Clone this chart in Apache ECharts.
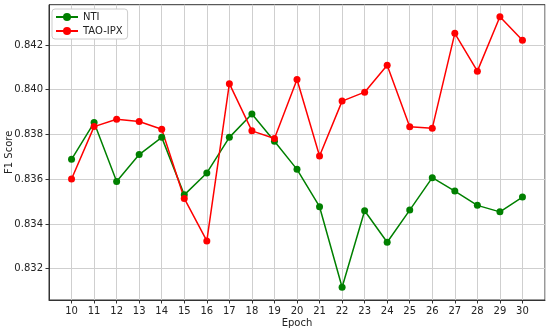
<!DOCTYPE html>
<html><head><meta charset="utf-8">
<script src="https://cdn.jsdelivr.net/npm/echarts@6/dist/echarts.min.js"></script>
<style>html,body{margin:0;padding:0;background:#fff}#c{width:550px;height:331px}</style>
</head><body><div id="c"></div>
<script>
const epochs = [10,11,12,13,14,15,16,17,18,19,20,21,22,23,24,25,26,27,28,29,30];
const nti = [0.83689,0.83853,0.83590,0.83710,0.83787,0.83530,0.83628,0.83787,0.83891,0.83770,0.83644,0.83477,0.83117,0.83459,0.83318,0.83462,0.83607,0.83547,0.83483,0.83454,0.83520];
const taoIpx = [0.83601,0.83835,0.83868,0.83858,0.83823,0.83514,0.83324,0.84027,0.83816,0.83782,0.84046,0.83704,0.83949,0.83989,0.84109,0.83834,0.83828,0.84252,0.84083,0.84326,0.84221];
const yTicks = [0.832,0.834,0.836,0.838,0.840,0.842];

const chart = echarts.init(document.getElementById('c'), null, {renderer:'canvas'});
const font = 'DejaVu Sans';
const gridColor = '#cfcfcf';
const frame = '#333333';
chart.setOption({
  animation:false,
  textStyle:{fontFamily:font},
  grid:{left:49,right:5,top:4.7,bottom:31,containLabel:false,outerBoundsMode:'none',show:true,borderColor:frame,borderWidth:1,backgroundColor:'#fff'},
  legend:{
    orient:'vertical',left:52,top:9,padding:[3,5,3,3],itemWidth:22,itemHeight:10,itemGap:4,
    borderColor:'#cccccc',borderWidth:1,borderRadius:3,backgroundColor:'#fff',
    textStyle:{fontSize:10,color:'#222',fontFamily:font},
    data:['NTI','TAO-IPX']
  },
  xAxis:{
    type:'value',min:9,max:31,interval:1,
    name:'Epoch',nameLocation:'middle',nameGap:18,nameMoveOverlap:false,
    nameTextStyle:{fontSize:10,color:'#222',fontFamily:font},
    axisLine:{show:true,lineStyle:{color:frame}},
    axisTick:{show:true,inside:false,length:3.5,lineStyle:{color:frame}},
    axisLabel:{fontSize:10,color:'#222',margin:6,showMinLabel:false,showMaxLabel:false,
      formatter:v=>(v<10||v>30)?'':String(v)},
    splitLine:{show:true,lineStyle:{color:gridColor,width:1}}
  },
  yAxis:{
    type:'value',min:0.8306,max:0.8438,
    name:'F1 Score',nameLocation:'middle',nameGap:35,nameMoveOverlap:false,
    nameTextStyle:{fontSize:10,color:'#222',fontFamily:font},
    axisLine:{show:true,lineStyle:{color:frame}},
    axisTick:{show:true,inside:false,length:3.5,lineStyle:{color:frame},customValues:yTicks},
    axisLabel:{fontSize:10,color:'#222',margin:6,customValues:yTicks,formatter:v=>v.toFixed(3)},
    splitLine:{show:true,lineStyle:{color:gridColor,width:1}}
  },
  series:[
    {name:'NTI',type:'line',data:epochs.map((e,i)=>[e,nti[i]]),color:'#008000',
     symbol:'circle',symbolSize:7,lineStyle:{width:1.5},itemStyle:{color:'#008000'}},
    {name:'TAO-IPX',type:'line',data:epochs.map((e,i)=>[e,taoIpx[i]]),color:'#ff0000',
     symbol:'circle',symbolSize:7,lineStyle:{width:1.5},itemStyle:{color:'#ff0000'}}
  ]
});
</script></body></html>
